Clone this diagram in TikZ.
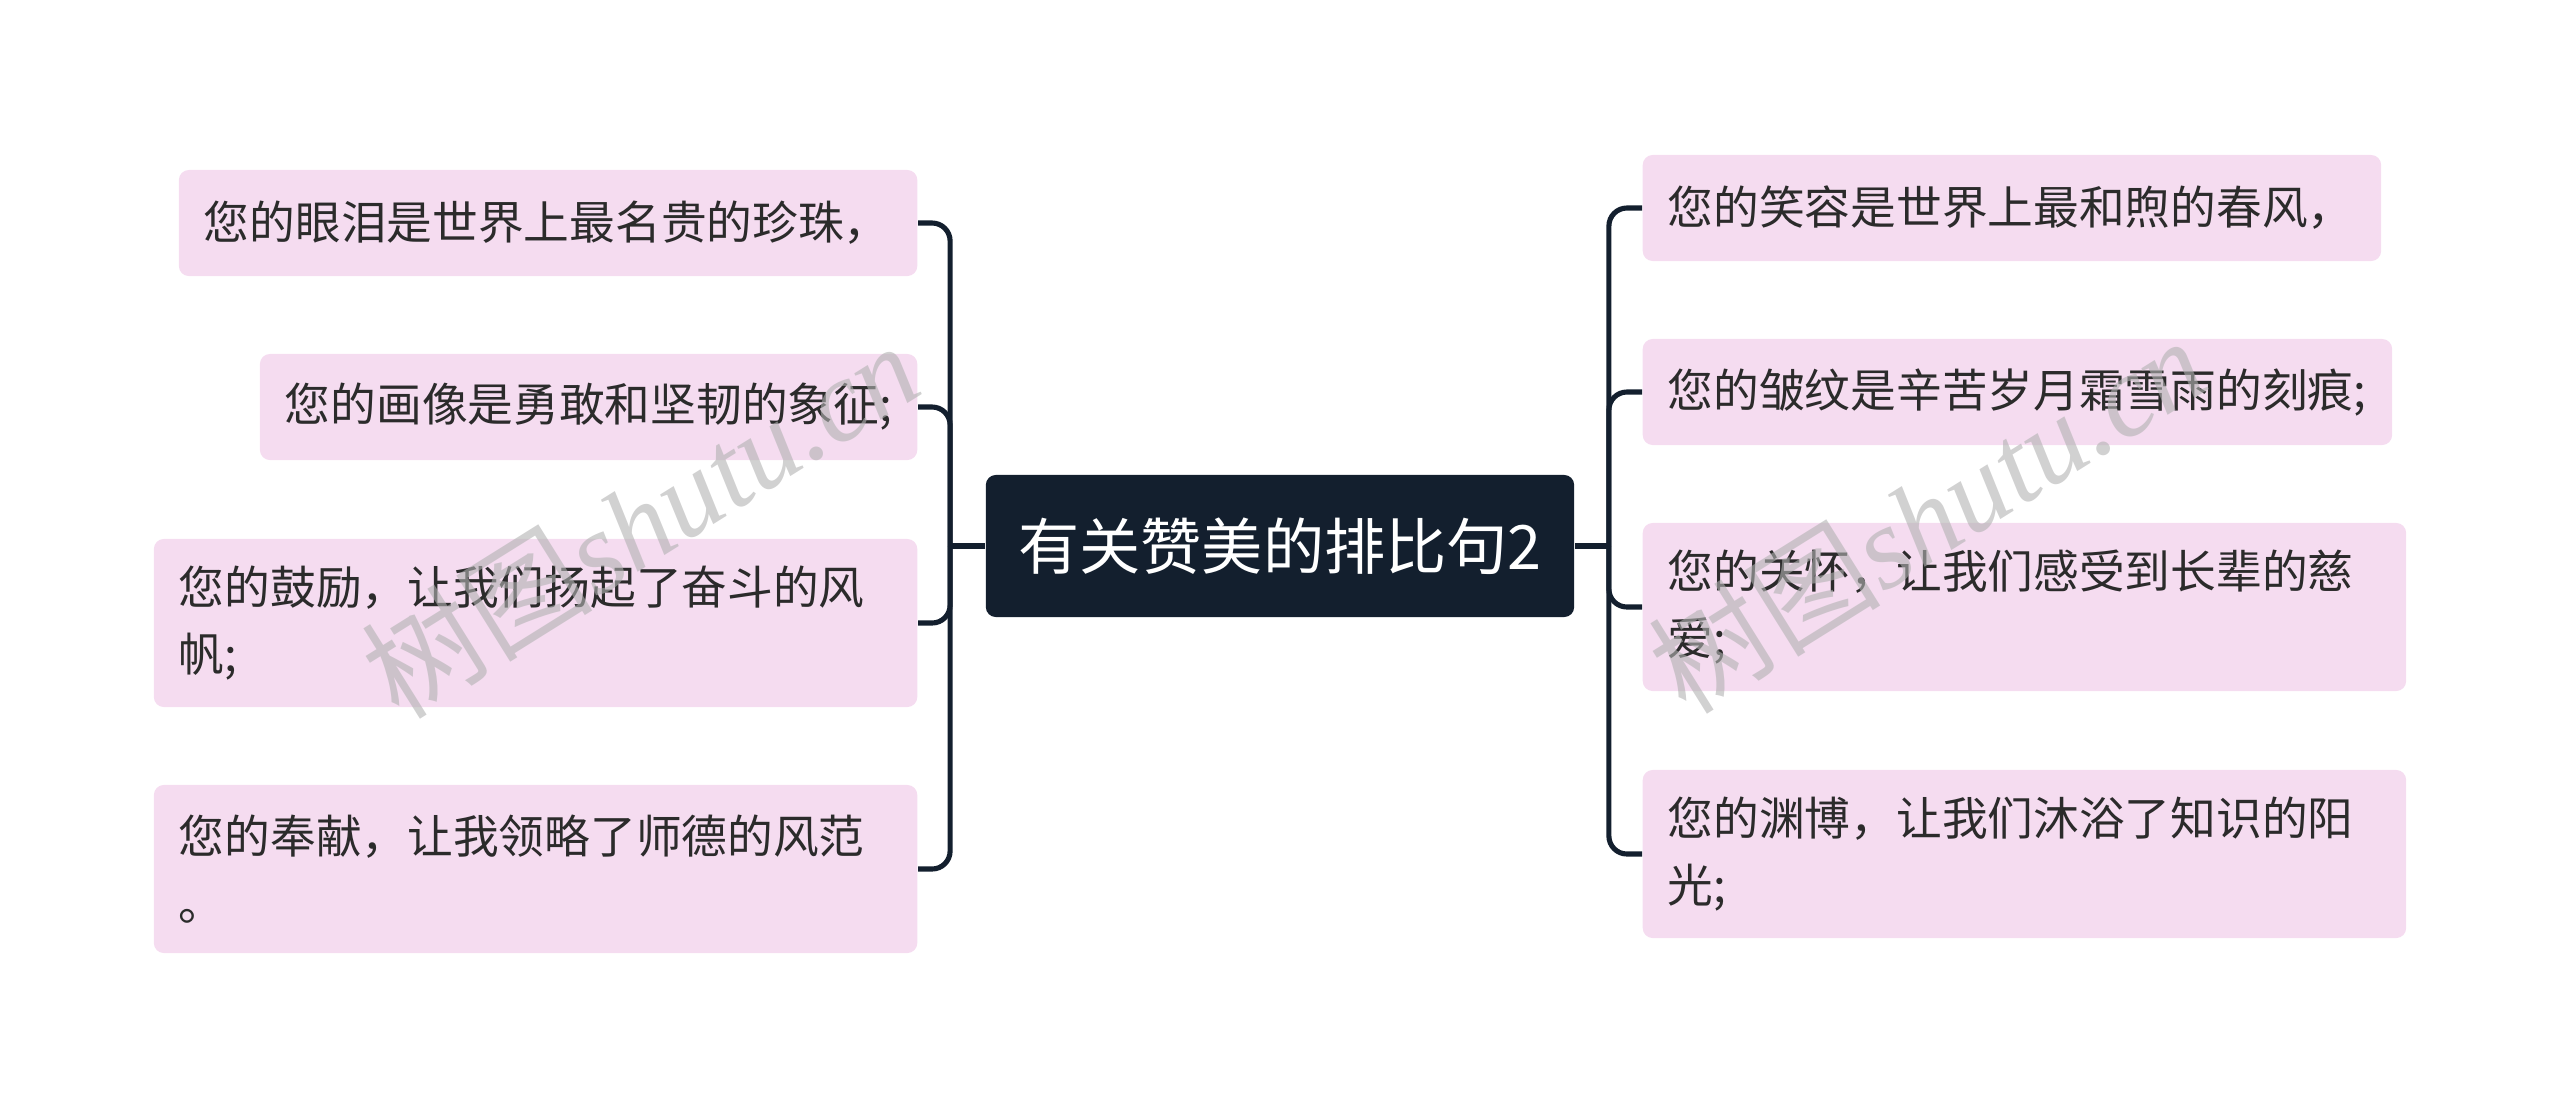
\documentclass[tikz,border=0pt]{standalone}
\usepackage{fontspec}
\setmainfont{Noto Sans CJK SC}
\newfontfamily\wmserif{Liberation Serif}
\usetikzlibrary{positioning}
\definecolor{navy}{HTML}{131F2E}
\definecolor{leafpink}{HTML}{F5DCF0}
\definecolor{inkgray}{HTML}{2B2B2B}
\tikzset{
  topic/.style={fill=navy, rounded corners=0.1cm, text=white, inner sep=0pt,
    minimum width=5.88cm, minimum height=1.42cm, font=\fontsize{17.4}{20}\selectfont},
  leaf/.style 2 args={fill=leafpink, rounded corners=0.1cm, text=inkgray, align=left,
    text width=#1, minimum height=#2, inner xsep=0.25cm, inner ysep=0pt,
    font=\fontsize{13}{19}\selectfont},
  branch/.style={draw=navy, line width=1.45pt, rounded corners=0.18cm},
  wmark/.style={text=black!30, text opacity=0.6, rotate=32,
    font=\wmserif\itshape\fontsize{33}{36}\selectfont}
}
\begin{document}
\begin{tikzpicture}[x=0.01cm, y=-0.01cm]
  \useasboundingbox (0,0) rectangle (2560,1108);
  \node[topic] (root) at (1280,546) {有关赞美的排比句2};
  % left side
  \node[leaf={6.88cm}{1.06cm}, anchor=east] (l1) at (918,223) {您的眼泪是世界上最名贵的珍珠，};
  \node[leaf={6.07cm}{1.06cm}, anchor=east] (l2) at (918,407) {您的画像是勇敢和坚韧的象征;};
  \node[leaf={7.13cm}{1.68cm}, anchor=east] (l3) at (918,623) {您的鼓励，让我们扬起了奋斗的风\\帆;};
  \node[leaf={7.13cm}{1.68cm}, anchor=east] (l4) at (918,869) {您的奉献，让我领略了师德的风范\\。};
  % right side
  \node[leaf={6.88cm}{1.06cm}, anchor=west] (r1) at (1642,208) {您的笑容是世界上最和煦的春风，};
  \node[leaf={6.99cm}{1.06cm}, anchor=west] (r2) at (1642,392) {您的皱纹是辛苦岁月霜雪雨的刻痕;};
  \node[leaf={7.13cm}{1.68cm}, anchor=west] (r3) at (1642,607) {您的关怀，让我们感受到长辈的慈\\爱;};
  \node[leaf={7.13cm}{1.68cm}, anchor=west] (r4) at (1642,854) {您的渊博，让我们沐浴了知识的阳\\光;};
  \coordinate (lhub) at ([xshift=-0.35cm]root.west);
  \coordinate (rhub) at ([xshift=0.34cm]root.east);
  \draw[branch] (root.west) -- (lhub);
  \draw[branch] (root.east) -- (rhub);
  \foreach \n in {l1,l2,l3,l4}
    \draw[branch] (lhub) |- (\n.east);
  \foreach \n in {r1,r2,r3,r4}
    \draw[branch] (rhub) |- (\n.west);
  % watermark
  \node[wmark] (wm1) at (640,519) {{\rmfamily 树图}shutu.cn};
  \node[wmark] (wm2) at (1927,514) {{\rmfamily 树图}shutu.cn};
\end{tikzpicture}
\end{document}
